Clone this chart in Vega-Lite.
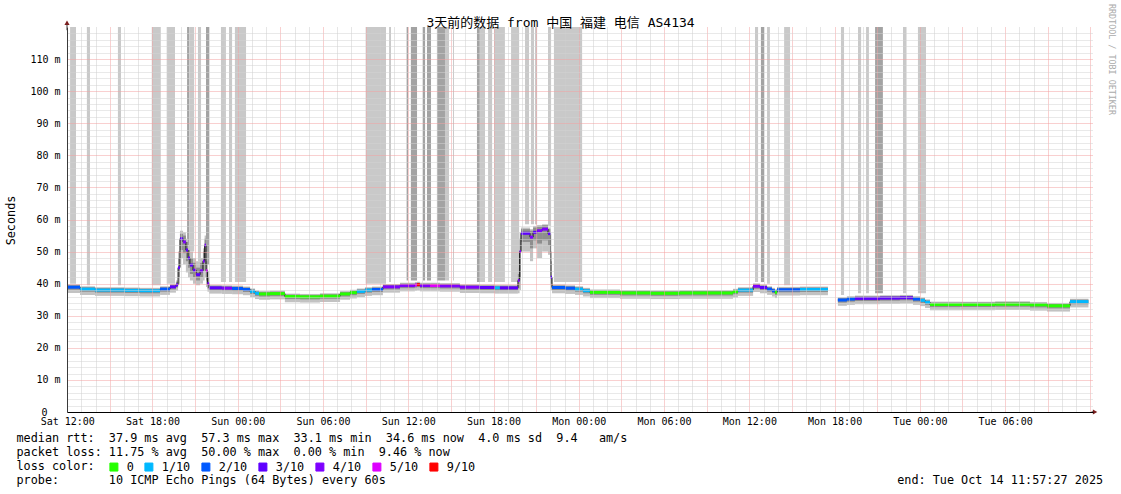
{
  "$schema": "https://vega.github.io/schema/vega-lite/v6.json",
  "width": 1026,
  "height": 385,
  "autosize": {"type": "none"},
  "padding": {"left": 67, "top": 27, "right": 28, "bottom": 82},
  "background": "white",
  "config": {
    "view": {"stroke": null},
    "axis": {"labelFont": "DejaVu Sans Mono", "titleFont": "DejaVu Sans Mono", "labelColor": "#000", "titleColor": "#000", "titleFontWeight": "normal"}
  },
  "title": {
    "text": "3天前的数据 from 中国 福建 电信 AS4134",
    "font": "DejaVu Sans Mono, Noto Sans CJK SC",
    "fontSize": 13,
    "fontWeight": "normal",
    "color": "#000",
    "anchor": "middle",
    "frame": "group",
    "dx": -19.5,
    "offset": -26
  },
  "datasets": {
    "rtt": [
      {"t":"2025-10-11T11:59","e":"2025-10-11T12:54","v":38.9,"lo":37.1,"hi":39.8,"ilo":38.1,"ihi":39.5,"loss":"2/10","part":1},
      {"t":"2025-10-11T12:54","e":"2025-10-11T13:57","v":38.3,"lo":36.5,"hi":39.2,"ilo":37.5,"ihi":38.9,"loss":"1/10","part":1},
      {"t":"2025-10-11T13:57","e":"2025-10-11T16:04","v":38.0,"lo":36.2,"hi":38.9,"ilo":37.2,"ihi":38.6,"loss":"1/10","part":1},
      {"t":"2025-10-11T16:04","e":"2025-10-11T17:07","v":37.9,"lo":36.1,"hi":38.8,"ilo":37.1,"ihi":38.5,"loss":"1/10","part":1},
      {"t":"2025-10-11T17:07","e":"2025-10-11T18:32","v":37.8,"lo":36.0,"hi":38.7,"ilo":37.0,"ihi":38.4,"loss":"1/10","part":1},
      {"t":"2025-10-11T18:32","e":"2025-10-11T19:14","v":38.3,"lo":36.5,"hi":39.2,"ilo":37.5,"ihi":38.9,"loss":"2/10","part":1},
      {"t":"2025-10-11T19:14","e":"2025-10-11T19:39","v":39.0,"lo":37.2,"hi":39.9,"ilo":38.2,"ihi":39.6,"loss":"3/10","part":1},
      {"t":"2025-10-11T19:39","e":"2025-10-11T19:48","v":39.6,"lo":37.8,"hi":41,"ilo":38.8,"ihi":40.5,"loss":"3/10","part":1},
      {"t":"2025-10-11T19:48","e":"2025-10-11T19:56","v":45,"lo":40,"hi":50,"ilo":42,"ihi":48,"loss":"3/10","part":1},
      {"t":"2025-10-11T19:56","e":"2025-10-11T20:09","v":54,"lo":48,"hi":56.5,"ilo":50.5,"ihi":55.5,"loss":"3/10","part":1},
      {"t":"2025-10-11T20:09","e":"2025-10-11T20:21","v":53,"lo":46,"hi":56,"ilo":49.5,"ihi":55,"loss":"4/10","part":1},
      {"t":"2025-10-11T20:21","e":"2025-10-11T20:30","v":50.5,"lo":43.5,"hi":54,"ilo":47,"ihi":53,"loss":"3/10","part":1},
      {"t":"2025-10-11T20:30","e":"2025-10-11T20:38","v":48,"lo":42,"hi":52,"ilo":45,"ihi":50.5,"loss":"3/10","part":1},
      {"t":"2025-10-11T20:38","e":"2025-10-11T20:51","v":45.8,"lo":41,"hi":50,"ilo":43,"ihi":48,"loss":"3/10","part":1},
      {"t":"2025-10-11T20:51","e":"2025-10-11T21:04","v":44.2,"lo":40,"hi":48,"ilo":42,"ihi":46.5,"loss":"3/10","part":1},
      {"t":"2025-10-11T21:04","e":"2025-10-11T21:21","v":42.8,"lo":39.5,"hi":47,"ilo":41,"ihi":45,"loss":"3/10","part":1},
      {"t":"2025-10-11T21:21","e":"2025-10-11T21:33","v":44,"lo":40,"hi":48,"ilo":42,"ihi":46.5,"loss":"4/10","part":1},
      {"t":"2025-10-11T21:33","e":"2025-10-11T21:40","v":47,"lo":41,"hi":51,"ilo":44,"ihi":50,"loss":"4/10","part":1},
      {"t":"2025-10-11T21:40","e":"2025-10-11T21:46","v":52,"lo":42,"hi":55,"ilo":46,"ihi":54,"loss":"4/10","part":1},
      {"t":"2025-10-11T21:46","e":"2025-10-11T21:52","v":44,"lo":39,"hi":50,"ilo":41,"ihi":47,"loss":"5/10","part":1},
      {"t":"2025-10-11T21:52","e":"2025-10-11T21:59","v":40,"lo":37.5,"hi":44,"ilo":38.5,"ihi":42,"loss":"4/10","part":1},
      {"t":"2025-10-11T21:59","e":"2025-10-11T22:53","v":38.7,"lo":36.9,"hi":39.6,"ilo":37.9,"ihi":39.3,"loss":"3/10","part":1},
      {"t":"2025-10-11T22:53","e":"2025-10-11T23:36","v":38.6,"lo":36.8,"hi":39.5,"ilo":37.8,"ihi":39.2,"loss":"4/10","part":1},
      {"t":"2025-10-11T23:36","e":"2025-10-12T00:22","v":38.5,"lo":36.7,"hi":39.4,"ilo":37.7,"ihi":39.1,"loss":"2/10","part":1},
      {"t":"2025-10-12T00:22","e":"2025-10-12T00:52","v":38.2,"lo":36.4,"hi":39.1,"ilo":37.4,"ihi":38.8,"loss":"2/10","part":1},
      {"t":"2025-10-12T00:52","e":"2025-10-12T01:13","v":37.6,"lo":35.8,"hi":38.5,"ilo":36.8,"ihi":38.2,"loss":"1/10","part":1},
      {"t":"2025-10-12T01:13","e":"2025-10-12T01:30","v":37.0,"lo":35.2,"hi":37.9,"ilo":36.2,"ihi":37.6,"loss":"1/10","part":1},
      {"t":"2025-10-12T01:30","e":"2025-10-12T02:16","v":36.8,"lo":35.0,"hi":37.7,"ilo":36.0,"ihi":37.4,"loss":"0","part":1},
      {"t":"2025-10-12T02:16","e":"2025-10-12T03:19","v":36.9,"lo":35.1,"hi":37.8,"ilo":36.1,"ihi":37.5,"loss":"0","part":1},
      {"t":"2025-10-12T03:19","e":"2025-10-12T04:23","v":36.0,"lo":34.2,"hi":36.9,"ilo":35.2,"ihi":36.6,"loss":"0","part":1},
      {"t":"2025-10-12T04:23","e":"2025-10-12T05:47","v":35.9,"lo":34.1,"hi":36.8,"ilo":35.1,"ihi":36.5,"loss":"0","part":1},
      {"t":"2025-10-12T05:47","e":"2025-10-12T07:12","v":36.1,"lo":34.3,"hi":37.0,"ilo":35.3,"ihi":36.7,"loss":"0","part":1},
      {"t":"2025-10-12T07:12","e":"2025-10-12T07:54","v":36.8,"lo":35.0,"hi":37.7,"ilo":36.0,"ihi":37.4,"loss":"0","part":1},
      {"t":"2025-10-12T07:54","e":"2025-10-12T08:23","v":37.2,"lo":35.4,"hi":38.1,"ilo":36.4,"ihi":37.8,"loss":"0","part":1},
      {"t":"2025-10-12T08:23","e":"2025-10-12T08:57","v":37.6,"lo":35.8,"hi":38.5,"ilo":36.8,"ihi":38.2,"loss":"1/10","part":1},
      {"t":"2025-10-12T08:57","e":"2025-10-12T09:27","v":38.0,"lo":36.2,"hi":38.9,"ilo":37.2,"ihi":38.6,"loss":"1/10","part":1},
      {"t":"2025-10-12T09:27","e":"2025-10-12T10:13","v":38.2,"lo":36.4,"hi":39.1,"ilo":37.4,"ihi":38.8,"loss":"2/10","part":1},
      {"t":"2025-10-12T10:13","e":"2025-10-12T11:25","v":39.0,"lo":37.2,"hi":39.9,"ilo":38.2,"ihi":39.6,"loss":"4/10","part":1},
      {"t":"2025-10-12T11:25","e":"2025-10-12T12:28","v":39.4,"lo":37.6,"hi":40.3,"ilo":38.6,"ihi":40.0,"loss":"4/10","part":1},
      {"t":"2025-10-12T12:28","e":"2025-10-12T12:37","v":39.6,"lo":37.8,"hi":40.5,"ilo":38.8,"ihi":40.2,"loss":"5/10","part":1},
      {"t":"2025-10-12T12:37","e":"2025-10-12T12:49","v":39.7,"lo":37.9,"hi":40.6,"ilo":38.9,"ihi":40.3,"loss":"9/10","part":1},
      {"t":"2025-10-12T12:49","e":"2025-10-12T13:32","v":39.4,"lo":37.6,"hi":40.3,"ilo":38.6,"ihi":40.0,"loss":"4/10","part":1},
      {"t":"2025-10-12T13:32","e":"2025-10-12T14:14","v":39.4,"lo":37.6,"hi":40.3,"ilo":38.6,"ihi":40.0,"loss":"5/10","part":1},
      {"t":"2025-10-12T14:14","e":"2025-10-12T15:38","v":39.3,"lo":37.5,"hi":40.2,"ilo":38.5,"ihi":39.9,"loss":"4/10","part":1},
      {"t":"2025-10-12T15:38","e":"2025-10-12T17:03","v":38.9,"lo":37.1,"hi":39.8,"ilo":38.1,"ihi":39.5,"loss":"4/10","part":1},
      {"t":"2025-10-12T17:03","e":"2025-10-12T18:06","v":38.8,"lo":37.0,"hi":39.7,"ilo":38.0,"ihi":39.4,"loss":"3/10","part":1},
      {"t":"2025-10-12T18:06","e":"2025-10-12T18:27","v":38.7,"lo":36.9,"hi":39.6,"ilo":37.9,"ihi":39.3,"loss":"1/10","part":1},
      {"t":"2025-10-12T18:27","e":"2025-10-12T19:43","v":38.7,"lo":36.9,"hi":39.6,"ilo":37.9,"ihi":39.3,"loss":"3/10","part":1},
      {"t":"2025-10-12T19:43","e":"2025-10-12T19:50","v":41,"lo":37,"hi":45,"ilo":38.5,"ihi":43,"loss":"4/10","part":1},
      {"t":"2025-10-12T19:50","e":"2025-10-12T19:56","v":50,"lo":38,"hi":56,"ilo":42,"ihi":54,"loss":"4/10","part":1},
      {"t":"2025-10-12T19:56","e":"2025-10-12T20:34","v":55.7,"lo":50,"hi":57.5,"ilo":53,"ihi":57,"loss":"3/10","part":1},
      {"t":"2025-10-12T20:34","e":"2025-10-12T20:47","v":54.5,"lo":47,"hi":57,"ilo":51,"ihi":56.5,"loss":"4/10","part":1},
      {"t":"2025-10-12T20:47","e":"2025-10-12T21:04","v":56,"lo":51,"hi":58,"ilo":53.5,"ihi":57.5,"loss":"3/10","part":1},
      {"t":"2025-10-12T21:04","e":"2025-10-12T21:25","v":56.5,"lo":48,"hi":58.3,"ilo":52.5,"ihi":57.8,"loss":"4/10","part":1},
      {"t":"2025-10-12T21:25","e":"2025-10-12T21:50","v":57,"lo":50,"hi":58.5,"ilo":53.5,"ihi":58.2,"loss":"4/10","part":1},
      {"t":"2025-10-12T21:50","e":"2025-10-12T22:01","v":55.6,"lo":49,"hi":57.5,"ilo":52,"ihi":57,"loss":"3/10","part":1},
      {"t":"2025-10-12T22:01","e":"2025-10-12T22:07","v":42,"lo":38,"hi":50,"ilo":40,"ihi":47,"loss":"3/10","part":1},
      {"t":"2025-10-12T22:07","e":"2025-10-12T23:02","v":38.8,"lo":37.0,"hi":39.7,"ilo":38.0,"ihi":39.4,"loss":"2/10","part":1},
      {"t":"2025-10-12T23:02","e":"2025-10-12T23:44","v":38.6,"lo":36.8,"hi":39.5,"ilo":37.8,"ihi":39.2,"loss":"2/10","part":1},
      {"t":"2025-10-12T23:44","e":"2025-10-13T00:18","v":38.3,"lo":36.5,"hi":39.2,"ilo":37.5,"ihi":38.9,"loss":"1/10","part":1},
      {"t":"2025-10-13T00:18","e":"2025-10-13T00:47","v":37.8,"lo":36.0,"hi":38.7,"ilo":37.0,"ihi":38.4,"loss":"1/10","part":1},
      {"t":"2025-10-13T00:47","e":"2025-10-13T02:54","v":37.3,"lo":35.5,"hi":38.2,"ilo":36.5,"ihi":37.9,"loss":"0","part":1},
      {"t":"2025-10-13T02:54","e":"2025-10-13T05:01","v":37.1,"lo":35.3,"hi":38.0,"ilo":36.3,"ihi":37.7,"loss":"0","part":1},
      {"t":"2025-10-13T05:01","e":"2025-10-13T07:07","v":37.0,"lo":35.2,"hi":37.9,"ilo":36.2,"ihi":37.6,"loss":"0","part":1},
      {"t":"2025-10-13T07:07","e":"2025-10-13T09:14","v":37.1,"lo":35.3,"hi":38.0,"ilo":36.3,"ihi":37.7,"loss":"0","part":1},
      {"t":"2025-10-13T09:14","e":"2025-10-13T10:51","v":37.1,"lo":35.3,"hi":38.0,"ilo":36.3,"ihi":37.7,"loss":"0","part":1},
      {"t":"2025-10-13T10:51","e":"2025-10-13T11:12","v":37.5,"lo":35.7,"hi":38.4,"ilo":36.7,"ihi":38.1,"loss":"0","part":1},
      {"t":"2025-10-13T11:12","e":"2025-10-13T12:16","v":38.0,"lo":36.2,"hi":38.9,"ilo":37.2,"ihi":38.6,"loss":"1/10","part":1},
      {"t":"2025-10-13T12:16","e":"2025-10-13T12:45","v":39.2,"lo":37.4,"hi":40.1,"ilo":38.4,"ihi":39.8,"loss":"4/10","part":1},
      {"t":"2025-10-13T12:45","e":"2025-10-13T13:15","v":38.8,"lo":37.0,"hi":39.7,"ilo":38.0,"ihi":39.4,"loss":"3/10","part":1},
      {"t":"2025-10-13T13:15","e":"2025-10-13T13:36","v":38.3,"lo":36.5,"hi":39.2,"ilo":37.5,"ihi":38.9,"loss":"2/10","part":1},
      {"t":"2025-10-13T13:36","e":"2025-10-13T13:48","v":37.8,"lo":36.0,"hi":38.7,"ilo":37.0,"ihi":38.4,"loss":"2/10","part":1},
      {"t":"2025-10-13T13:48","e":"2025-10-13T13:57","v":37.3,"lo":35.5,"hi":38.2,"ilo":36.5,"ihi":37.9,"loss":"0","part":1},
      {"t":"2025-10-13T13:57","e":"2025-10-13T15:34","v":38.1,"lo":36.3,"hi":39.0,"ilo":37.3,"ihi":38.7,"loss":"2/10","part":1},
      {"t":"2025-10-13T15:34","e":"2025-10-13T17:32","v":38.2,"lo":36.4,"hi":39.1,"ilo":37.4,"ihi":38.8,"loss":"1/10","part":1},
      {"t":"2025-10-13T18:14","e":"2025-10-13T18:52","v":34.9,"lo":33.1,"hi":35.8,"ilo":34.1,"ihi":35.5,"loss":"2/10","part":2},
      {"t":"2025-10-13T18:52","e":"2025-10-13T19:26","v":35.2,"lo":33.4,"hi":36.1,"ilo":34.4,"ihi":35.8,"loss":"2/10","part":2},
      {"t":"2025-10-13T19:26","e":"2025-10-13T21:12","v":35.4,"lo":33.6,"hi":36.3,"ilo":34.6,"ihi":36.0,"loss":"3/10","part":2},
      {"t":"2025-10-13T21:12","e":"2025-10-13T22:36","v":35.5,"lo":33.7,"hi":36.4,"ilo":34.7,"ihi":36.1,"loss":"3/10","part":2},
      {"t":"2025-10-13T22:36","e":"2025-10-13T23:31","v":35.6,"lo":33.8,"hi":36.5,"ilo":34.8,"ihi":36.2,"loss":"3/10","part":2},
      {"t":"2025-10-13T23:31","e":"2025-10-14T00:01","v":35.2,"lo":33.4,"hi":36.1,"ilo":34.4,"ihi":35.8,"loss":"2/10","part":2},
      {"t":"2025-10-14T00:01","e":"2025-10-14T00:22","v":34.8,"lo":33.0,"hi":35.7,"ilo":34.0,"ihi":35.4,"loss":"1/10","part":2},
      {"t":"2025-10-14T00:22","e":"2025-10-14T00:43","v":34.2,"lo":32.4,"hi":35.1,"ilo":33.4,"ihi":34.8,"loss":"1/10","part":2},
      {"t":"2025-10-14T00:43","e":"2025-10-14T02:50","v":33.5,"lo":31.7,"hi":34.4,"ilo":32.7,"ihi":34.1,"loss":"0","part":2},
      {"t":"2025-10-14T02:50","e":"2025-10-14T05:18","v":33.5,"lo":31.7,"hi":34.4,"ilo":32.7,"ihi":34.1,"loss":"0","part":2},
      {"t":"2025-10-14T05:18","e":"2025-10-14T07:45","v":33.6,"lo":31.8,"hi":34.5,"ilo":32.8,"ihi":34.2,"loss":"0","part":2},
      {"t":"2025-10-14T07:45","e":"2025-10-14T08:57","v":33.4,"lo":31.6,"hi":34.3,"ilo":32.6,"ihi":34.0,"loss":"0","part":2},
      {"t":"2025-10-14T08:57","e":"2025-10-14T10:34","v":33.1,"lo":31.3,"hi":34.0,"ilo":32.3,"ihi":33.7,"loss":"0","part":2},
      {"t":"2025-10-14T10:34","e":"2025-10-14T11:52","v":34.4,"lo":32.6,"hi":35.3,"ilo":33.6,"ihi":35.0,"loss":"1/10","part":2}
    ],
    "offscale": [
      {"t":"2025-10-11T12:12","e":"2025-10-11T12:37","lo":40,"shade":"light"},
      {"t":"2025-10-11T13:23","e":"2025-10-11T13:36","lo":39.5,"shade":"light"},
      {"t":"2025-10-11T15:34","e":"2025-10-11T15:47","lo":39.5,"shade":"light"},
      {"t":"2025-10-11T17:57","e":"2025-10-11T18:35","lo":39.5,"shade":"light"},
      {"t":"2025-10-11T19:00","e":"2025-10-11T19:35","lo":40,"shade":"light"},
      {"t":"2025-10-11T20:26","e":"2025-10-11T20:35","lo":52,"shade":"dark"},
      {"t":"2025-10-11T20:35","e":"2025-10-11T20:56","lo":50,"shade":"light"},
      {"t":"2025-10-11T21:12","e":"2025-10-11T21:25","lo":47,"shade":"light"},
      {"t":"2025-10-11T21:46","e":"2025-10-11T21:59","lo":46,"shade":"dark"},
      {"t":"2025-10-11T22:49","e":"2025-10-11T23:10","lo":40.5,"shade":"light"},
      {"t":"2025-10-11T23:23","e":"2025-10-11T23:36","lo":40.5,"shade":"light"},
      {"t":"2025-10-11T23:48","e":"2025-10-12T00:35","lo":40.5,"shade":"light"},
      {"t":"2025-10-12T09:00","e":"2025-10-12T10:26","lo":40,"shade":"light"},
      {"t":"2025-10-12T10:39","e":"2025-10-12T10:47","lo":40.5,"shade":"light"},
      {"t":"2025-10-12T11:53","e":"2025-10-12T11:59","lo":41,"shade":"dark"},
      {"t":"2025-10-12T12:11","e":"2025-10-12T12:37","lo":41,"shade":"dark"},
      {"t":"2025-10-12T13:02","e":"2025-10-12T13:11","lo":41,"shade":"dark"},
      {"t":"2025-10-12T13:19","e":"2025-10-12T13:36","lo":41,"shade":"dark"},
      {"t":"2025-10-12T14:01","e":"2025-10-12T14:35","lo":41,"shade":"dark"},
      {"t":"2025-10-12T14:35","e":"2025-10-12T14:52","lo":41,"shade":"light"},
      {"t":"2025-10-12T15:09","e":"2025-10-12T15:13","lo":41,"shade":"light"},
      {"t":"2025-10-12T16:50","e":"2025-10-12T17:03","lo":40.5,"shade":"dark"},
      {"t":"2025-10-12T17:03","e":"2025-10-12T17:24","lo":40.5,"shade":"light"},
      {"t":"2025-10-12T17:37","e":"2025-10-12T17:54","lo":40.5,"shade":"light"},
      {"t":"2025-10-12T18:02","e":"2025-10-12T18:48","lo":40.5,"shade":"light"},
      {"t":"2025-10-12T19:14","e":"2025-10-12T19:48","lo":40.5,"shade":"light"},
      {"t":"2025-10-12T20:13","e":"2025-10-12T20:30","lo":58.5,"shade":"light"},
      {"t":"2025-10-12T20:38","e":"2025-10-12T20:51","lo":58.5,"shade":"light"},
      {"t":"2025-10-12T20:55","e":"2025-10-12T21:04","lo":58.5,"shade":"light"},
      {"t":"2025-10-12T21:50","e":"2025-10-12T22:03","lo":58,"shade":"light"},
      {"t":"2025-10-12T22:15","e":"2025-10-13T00:14","lo":40.5,"shade":"light"},
      {"t":"2025-10-13T12:24","e":"2025-10-13T12:37","lo":40.5,"shade":"light"},
      {"t":"2025-10-13T12:49","e":"2025-10-13T13:02","lo":40.5,"shade":"dark"},
      {"t":"2025-10-13T13:15","e":"2025-10-13T13:27","lo":40,"shade":"light"},
      {"t":"2025-10-13T14:27","e":"2025-10-13T14:52","lo":39.5,"shade":"light"},
      {"t":"2025-10-13T18:27","e":"2025-10-13T18:40","lo":36.5,"shade":"light"},
      {"t":"2025-10-13T19:39","e":"2025-10-13T19:52","lo":37,"shade":"light"},
      {"t":"2025-10-13T20:13","e":"2025-10-13T20:25","lo":37,"shade":"light"},
      {"t":"2025-10-13T20:51","e":"2025-10-13T21:24","lo":37,"shade":"dark"},
      {"t":"2025-10-13T22:49","e":"2025-10-13T23:02","lo":37,"shade":"light"},
      {"t":"2025-10-13T23:52","e":"2025-10-14T00:26","lo":37,"shade":"light"}
    ]
  },
  "layer": [
    {
      "data": {"name": "offscale"},
      "mark": {"type": "rect"},
      "encoding": {
        "x": {
          "field": "t", "type": "temporal",
          "scale": {"domain": [{"year": 2025, "month": 10, "date": 11, "hours": 11, "minutes": 59}, {"year": 2025, "month": 10, "date": 14, "hours": 12, "minutes": 11, "seconds": 12}], "nice": false},
          "axis": {
            "orient": "bottom",
            "tickCount": 72,
            "labelExpr": "hours(datum.value) % 6 == 0 && datum.value < datetime(2025, 9, 14, 11, 0) ? timeFormat(datum.value, '%a %H:%M') : ''",
            "labelFontSize": 10,
            "labelPadding": 4,
            "labelFlush": false,
            "labelOverlap": false,
            "labelBound": false,
            "ticks": false,
            "domain": true,
            "domainColor": "#000",
            "grid": true,
            "gridDash": [1, 1],
            "gridWidth": 1,
            "gridColor": {"condition": {"test": "hours(datum.value) % 3 == 0", "value": "#f3a0a0"}, "value": "#cccccc"},
            "zindex": 1,
            "title": [
              "median rtt:\u00a0\u00a037.9 ms avg\u00a0\u00a057.3 ms max\u00a0\u00a033.1 ms min\u00a0\u00a034.6 ms now\u00a0\u00a04.0 ms sd\u00a0\u00a09.4\u00a0\u00a0\u00a0am/s",
              "packet loss: 11.75 % avg\u00a0\u00a050.00 % max\u00a0\u00a00.00 % min\u00a0\u00a09.46 % now",
              "loss color:",
              "probe:\u00a0\u00a0\u00a0\u00a0\u00a0\u00a0\u00a010 ICMP Echo Pings (64 Bytes) every 60s\u00a0\u00a0\u00a0\u00a0\u00a0\u00a0\u00a0\u00a0\u00a0\u00a0\u00a0\u00a0\u00a0\u00a0\u00a0\u00a0\u00a0\u00a0\u00a0\u00a0\u00a0\u00a0\u00a0\u00a0\u00a0\u00a0\u00a0\u00a0\u00a0\u00a0\u00a0\u00a0\u00a0\u00a0\u00a0\u00a0\u00a0\u00a0\u00a0\u00a0\u00a0\u00a0\u00a0\u00a0\u00a0\u00a0\u00a0\u00a0\u00a0\u00a0\u00a0\u00a0\u00a0\u00a0\u00a0\u00a0\u00a0\u00a0\u00a0\u00a0\u00a0\u00a0\u00a0\u00a0\u00a0\u00a0\u00a0\u00a0\u00a0\u00a0\u00a0\u00a0end: Tue Oct 14 11:57:27 2025"
            ],
            "titleFontSize": 11.8,
            "titleAnchor": "start",
            "titleAlign": "left",
            "titleBaseline": "top",
            "titleX": -51,
            "titleY": 20,
            "titleLineHeight": 14
          }
        },
        "x2": {"field": "e"},
        "y": {
          "field": "lo", "type": "quantitative",
          "scale": {"domain": [0, 120], "nice": false, "zero": false},
          "axis": {
            "orient": "left",
            "tickCount": 100,
            "values": [0,2,4,6,8,10,12,14,16,18,20,22,24,26,28,30,32,34,36,38,40,42,44,46,48,50,52,54,56,58,60,62,64,66,68,70,72,74,76,78,80,82,84,86,88,90,92,94,96,98,100,102,104,106,108,110,112,114,116,118],
            "labelExpr": "datum.value % 10 == 0 ? (datum.value == 0 ? '0' : datum.value + ' m') : ''",
            "labelFontSize": 10,
            "labelPadding": {"condition": {"test": "datum.value == 0", "value": 20}, "value": 7},
            "labelOverlap": false,
            "ticks": false,
            "domain": true,
            "domainColor": "#3a3a3a",
            "grid": true,
            "gridDash": [1, 1],
            "gridWidth": 1,
            "gridColor": {"condition": {"test": "datum.value % 10 == 0", "value": "#f3a0a0"}, "value": "#d2d2d2"},
            "gridOpacity": {"condition": {"test": "datum.value == 0", "value": 0}, "value": 1},
            "zindex": 1,
            "title": "Seconds",
            "titleFontSize": 11.8,
            "titleX": -57,
            "titleY": 193,
            "titleAngle": 270,
            "titleAlign": "center",
            "titleBaseline": "middle"
          }
        },
        "y2": {"datum": 120},
        "color": {"condition": {"test": "datum.shade === 'dark'", "value": "#a3a3a3"}, "value": "#c9c9c9"}
      }
    },
    {
      "data": {"name": "rtt"},
      "mark": {"type": "rect", "color": "#c2c2c2"},
      "encoding": {
        "x": {"field": "t", "type": "temporal"},
        "x2": {"field": "e"},
        "y": {"field": "lo", "type": "quantitative"},
        "y2": {"field": "hi"}
      }
    },
    {
      "data": {"name": "rtt"},
      "mark": {"type": "rect", "color": "#8e8e8e"},
      "encoding": {
        "x": {"field": "t", "type": "temporal"},
        "x2": {"field": "e"},
        "y": {"field": "ilo", "type": "quantitative"},
        "y2": {"field": "ihi"}
      }
    },
    {
      "data": {"name": "rtt"},
      "mark": {"type": "line", "interpolate": "step-after", "color": "#1a1a1a", "strokeWidth": 1},
      "encoding": {
        "x": {"field": "t", "type": "temporal"},
        "y": {"field": "v", "type": "quantitative"},
        "detail": {"field": "part", "type": "nominal"}
      }
    },
    {
      "data": {"name": "rtt"},
      "mark": {"type": "rule", "strokeWidth": 3, "strokeCap": "butt"},
      "encoding": {
        "x": {"field": "t", "type": "temporal"},
        "x2": {"field": "e"},
        "y": {"field": "v", "type": "quantitative"},
        "stroke": {
          "field": "loss", "type": "nominal", "legend": null,
          "scale": {"domain": ["0", "1/10", "2/10", "3/10", "4/10", "5/10", "9/10"], "range": ["#26ff00", "#00b8ff", "#0059ff", "#5e00ff", "#7e00ff", "#dd00ff", "#ff0000"]}
        },
        "fill": {
          "field": "loss", "type": "nominal",
          "scale": {"domain": ["0", "1/10", "2/10", "3/10", "4/10", "5/10", "9/10"], "range": ["#26ff00", "#00b8ff", "#0059ff", "#5e00ff", "#7e00ff", "#dd00ff", "#ff0000"]},
          "legend": {
            "orient": "none", "legendX": 41, "legendY": 434, "direction": "horizontal",
            "title": null,
            "labelFont": "DejaVu Sans Mono", "labelFontSize": 11.8, "labelColor": "#000", "labelOffset": 7,
            "symbolType": "square", "symbolSize": 64, "symbolStrokeWidth": 1, "symbolStrokeColor": "#000", "symbolOpacity": 1, "columnPadding": 8, "padding": 0, "offset": 0
          }
        }
      }
    },
    {
      "data": {"values": [{"note": "RRDTOOL / TOBI OETIKER"}]},
      "mark": {"type": "text", "angle": 90, "align": "left", "baseline": "middle", "font": "DejaVu Sans Mono", "fontSize": 8.4, "color": "#ababab", "dx": -23, "dy": -18.5},
      "encoding": {
        "x": {"datum": {"year": 2025, "month": 10, "date": 14, "hours": 12, "minutes": 11, "seconds": 12}, "type": "temporal"},
        "y": {"datum": 120, "type": "quantitative"},
        "text": {"field": "note", "type": "nominal"}
      }
    },
    {
      "data": {"values": [{}]},
      "mark": {"type": "rule", "color": "#3a3a3a", "strokeWidth": 1},
      "encoding": {
        "x": {"datum": {"year": 2025, "month": 10, "date": 11, "hours": 11, "minutes": 59}, "type": "temporal"},
        "y": {"datum": 119, "type": "quantitative"},
        "y2": {"datum": 121}
      }
    },
    {
      "data": {"values": [{}]},
      "mark": {"type": "rule", "color": "#000", "strokeWidth": 1},
      "encoding": {
        "x": {"datum": {"year": 2025, "month": 10, "date": 14, "hours": 12, "minutes": 5}, "type": "temporal"},
        "x2": {"datum": {"year": 2025, "month": 10, "date": 14, "hours": 12, "minutes": 18}},
        "y": {"datum": 0, "type": "quantitative"}
      }
    },
    {
      "data": {"values": [{}]},
      "mark": {"type": "point", "shape": "triangle-up", "filled": true, "size": 26, "color": "#7a1e1e", "opacity": 1},
      "encoding": {
        "x": {"datum": {"year": 2025, "month": 10, "date": 11, "hours": 11, "minutes": 59}, "type": "temporal"},
        "y": {"datum": 121.3, "type": "quantitative"}
      }
    },
    {
      "data": {"values": [{}]},
      "mark": {"type": "point", "shape": "triangle-right", "filled": true, "size": 26, "color": "#7a1e1e", "opacity": 1},
      "encoding": {
        "x": {"datum": {"year": 2025, "month": 10, "date": 14, "hours": 12, "minutes": 20}, "type": "temporal"},
        "y": {"datum": 0, "type": "quantitative"}
      }
    }
  ]
}
